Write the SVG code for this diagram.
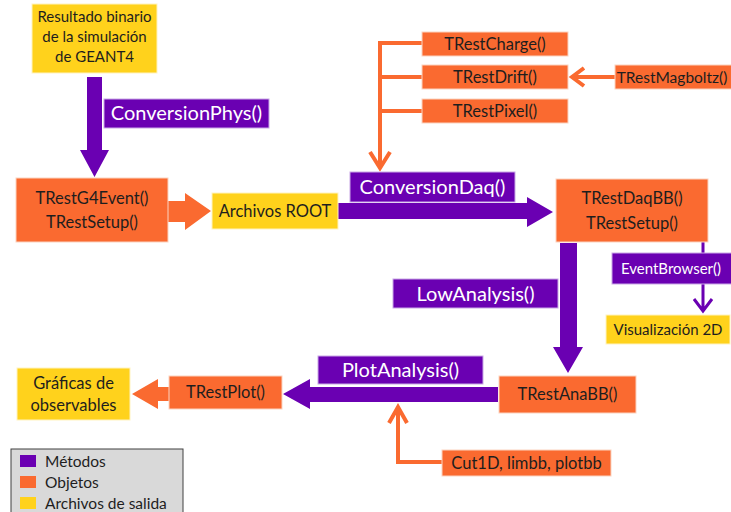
<svg xmlns="http://www.w3.org/2000/svg" width="731" height="512" viewBox="0 0 731 512">
<style>
.o{fill:#fa6a30;stroke:#fbd3c0;stroke-width:1}
.y{fill:#ffd21c;stroke:#fff3c0;stroke-width:1}
.p{fill:#6a00b2;stroke:#c9a8e6;stroke-width:1}
.pf{fill:#6a00b2}
.of{fill:#fa6a30}
.ol{fill:none;stroke:#fa6a30;stroke-width:4}
.pl{fill:none;stroke:#6a00b2;stroke-width:3}
text{font-family:Lato,"Open Sans","Liberation Sans",sans-serif;text-anchor:middle}
.t{fill:#1e1e1e;font-size:16.5px}
.ts{fill:#1e1e1e;font-size:15px}
.w{fill:#ffffff;font-size:20px}
.ws{fill:#ffffff;font-size:15px}
.lg{fill:#1e1e1e;font-size:15.5px;text-anchor:start}
</style>
<g id="connectors">
<polygon class="pf" points="87,77 102,77 102,150 109,150 94.5,177 80,150 87,150"/>
<polygon class="of" points="168,201 185,201 185,193 211,211 185,230 185,222 168,222"/>
<polygon class="pf" points="338,203 527,203 527,197 553,212 527,227 527,219 338,219"/>
<path class="ol" d="M422,43 H380 V168 M380,77 H422 M380,111 H422 M370,152 L380,168 L390,152"/>
<path class="ol" d="M615,77 H572 M584,68 L572,77 L584,86"/>
<polygon class="pf" points="560,243 577,243 577,347 583,347 568,373 553,347 560,347"/>
<path class="pl" d="M703,242 V253 M703,284 V311 M694,299 L703,311 L712,299"/>
<polygon class="pf" points="498,387 310,387 310,379 283,394 310,409 310,402 498,402"/>
<polygon class="of" points="169,387 158,387 158,379 132,394 158,409 158,401 169,401"/>
<path class="ol" d="M442,462 H398 V407 M389,423 L398,407 L407,423"/>
</g>
<g id="geant4"><rect class="y" x="32" y="4" width="125" height="69"/><text class="ts" x="94.5" y="22">Resultado binario</text><text class="ts" x="94.5" y="42">de la simulación</text><text class="ts" x="94.5" y="62">de GEANT4</text></g>
<g id="conversionPhys"><rect class="p" x="104" y="99" width="165" height="29"/><text class="w" x="186.5" y="120">ConversionPhys()</text></g>
<g id="g4event"><rect class="o" x="16" y="178" width="152" height="64"/><text class="t" x="92" y="204">TRestG4Event()</text><text class="t" x="92" y="228">TRestSetup()</text></g>
<g id="root"><rect class="y" x="212" y="193" width="126" height="36"/><text class="t" x="275" y="217">Archivos ROOT</text></g>
<g id="charge"><rect class="o" x="422" y="32" width="146" height="24"/><text class="t" x="495" y="50">TRestCharge()</text></g>
<g id="drift"><rect class="o" x="422" y="65" width="146" height="24"/><text class="t" x="495" y="83">TRestDrift()</text></g>
<g id="pixel"><rect class="o" x="422" y="99" width="146" height="24"/><text class="t" x="495" y="117">TRestPixel()</text></g>
<g id="magboltz"><rect class="o" x="615" y="65" width="120" height="24"/><text class="t" x="672" y="83" style="font-size:15.5px">TRestMagboltz()</text></g>
<g id="conversionDaq"><rect class="p" x="350" y="172" width="165" height="30"/><text class="w" x="432.5" y="194">ConversionDaq()</text></g>
<g id="daqbb"><rect class="o" x="556" y="179" width="152" height="63"/><text class="t" x="632" y="204">TRestDaqBB()</text><text class="t" x="632" y="229">TRestSetup()</text></g>
<g id="lowAnalysis"><rect class="p" x="393" y="279" width="165" height="29"/><text class="w" x="475.5" y="301">LowAnalysis()</text></g>
<g id="eventBrowser"><rect class="p" x="612" y="253" width="120" height="31"/><text class="ws" x="671" y="274">EventBrowser()</text></g>
<g id="vis2d"><rect class="y" x="606" y="315" width="124" height="29"/><text class="ts" x="668" y="335">Visualización 2D</text></g>
<g id="anabb"><rect class="o" x="499" y="376" width="137" height="37"/><text class="t" x="567.5" y="400">TRestAnaBB()</text></g>
<g id="plotAnalysis"><rect class="p" x="318" y="356" width="165" height="28"/><text class="w" x="400.5" y="377">PlotAnalysis()</text></g>
<g id="plot"><rect class="o" x="169" y="376" width="113" height="33"/><text class="t" x="225.5" y="398">TRestPlot()</text></g>
<g id="graficas"><rect class="y" x="17" y="368" width="113" height="52"/><text class="t" x="73.5" y="389">Gráficas de</text><text class="t" x="73.5" y="411">observables</text></g>
<g id="cuts"><rect class="o" x="442" y="450" width="169" height="26"/><text class="t" x="526.5" y="469">Cut1D, limbb, plotbb</text></g>
<g id="legend"><rect x="11" y="449" width="172" height="66" fill="#d9d9d9" stroke="#404040" stroke-width="1"/>
<rect x="20" y="455" width="16" height="12" class="pf"/><text class="lg" x="45" y="467">Métodos</text>
<rect x="20" y="476" width="16" height="12" class="of"/><text class="lg" x="45" y="488">Objetos</text>
<rect x="20" y="497" width="16" height="12" fill="#ffd21c"/><text class="lg" x="45" y="509">Archivos de salida</text></g>
</svg>
